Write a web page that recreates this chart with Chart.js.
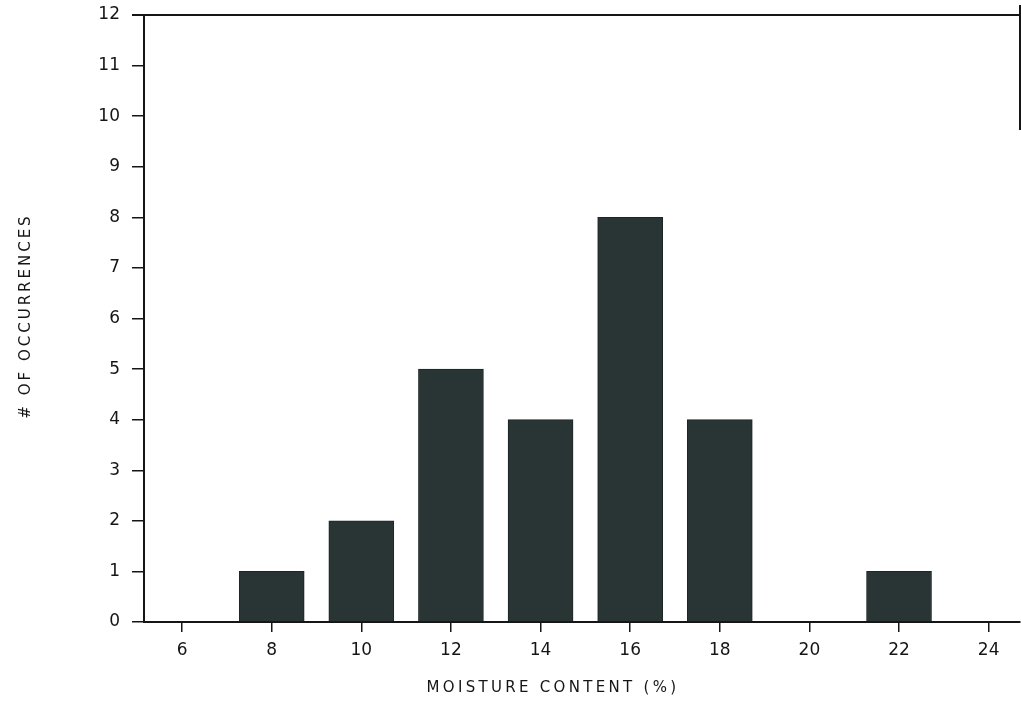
<!DOCTYPE html>
<html lang="en">
<head>
  <meta charset="UTF-8" />
  <title>Moisture content</title>
  <script src="https://cdn.jsdelivr.net/npm/chart.js"></script>
  <style>
    html, body { margin: 0; padding: 0; background: #fff; }
    #wrap { width: 1021px; height: 704px; position: relative; }
  </style>
</head>
<body>
<div id="wrap">
  <canvas id="grafik"></canvas>
</div>
<script>
  // moisture classes (%) and how often each one occurred
  const moisture = [8, 10, 12, 14, 16, 18, 22];
  const occurrences = [1, 2, 5, 4, 8, 4, 1];
  const xTicks = [6, 8, 10, 12, 14, 16, 18, 20, 22, 24];
  const yTicks = [0, 1, 2, 3, 4, 5, 6, 7, 8, 9, 10, 11, 12];

  const ink = '#151515';
  const font = { family: 'DejaVu Sans', size: 17 };

  // frame on top/right plus the two axis titles
  const frame = {
    id: 'frame',
    afterDraw(chart) {
      const { ctx, chartArea: a } = chart;
      ctx.save();
      ctx.strokeStyle = ink;
      ctx.lineWidth = 2;
      ctx.beginPath();
      ctx.moveTo(a.left - 12, a.top);
      ctx.lineTo(a.right, a.top);
      ctx.moveTo(a.right, a.top - 10);
      ctx.lineTo(a.right, a.top + 115);
      ctx.stroke();

      ctx.fillStyle = ink;
      ctx.font = '15px "DejaVu Sans"';
      ctx.letterSpacing = '3.3px';
      ctx.textAlign = 'center';
      ctx.textBaseline = 'middle';
      ctx.fillText('MOISTURE CONTENT (%)', 553, 688);

      ctx.translate(26, 316);
      ctx.rotate(-Math.PI / 2);
      ctx.letterSpacing = '3px';
      ctx.fillText('# OF OCCURRENCES', 0, 0);
      ctx.restore();
    }
  };

  const ctx = document.getElementById('grafik').getContext('2d');
  new Chart(ctx, {
    type: 'bar',
    data: {
      datasets: [{
        data: moisture.map((m, i) => ({ x: m, y: occurrences[i] })),
        backgroundColor: '#293435',
        borderColor: '#1d2626',
        borderWidth: 1,
        barThickness: 65
      }]
    },
    options: {
      responsive: true,
      maintainAspectRatio: false,
      animation: false,
      layout: { padding: { top: 15, right: 1, left: 0, bottom: 0 } },
      plugins: { legend: { display: false }, tooltip: { enabled: false } },
      scales: {
        x: {
          type: 'linear',
          offset: false,
          min: 5.15,
          max: 24.7,
          afterFit(s) { s.height = 82; s.paddingLeft = 0; s.paddingRight = 0; },
          afterBuildTicks(s) { s.ticks = xTicks.map(v => ({ value: v })); },
          grid: { offset: false, drawOnChartArea: false, tickLength: 10, color: ink, lineWidth: 1.5 },
          border: { display: true, color: ink, width: 2 },
          ticks: { color: ink, font, padding: 8, maxRotation: 0, autoSkip: false }
        },
        y: {
          min: 0,
          max: 12,
          afterFit(s) { s.width = 144; s.paddingTop = 0; s.paddingBottom = 0; },
          afterBuildTicks(s) { s.ticks = yTicks.map(v => ({ value: v })); },
          grid: { drawOnChartArea: false, tickLength: 12, color: ink, lineWidth: 1.5 },
          border: { display: true, color: ink, width: 2 },
          ticks: { color: ink, font, padding: 12, autoSkip: false }
        }
      }
    },
    plugins: [frame]
  });
</script>
</body>
</html>
